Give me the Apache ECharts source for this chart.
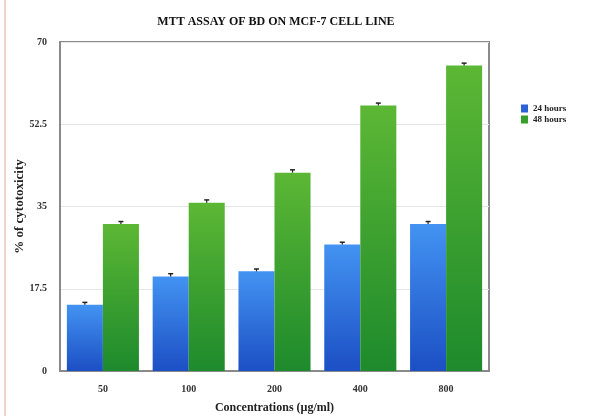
<!DOCTYPE html>
<html>
<head>
<meta charset="utf-8">
<script src="https://cdn.jsdelivr.net/npm/echarts@6/dist/echarts.min.js"></script>
<style>
  html, body { margin: 0; padding: 0; background: #ffffff; }
  #chart { width: 603px; height: 416px; }
</style>
</head>
<body>
<div id="chart"></div>
<script>
// Concentrations tested (µg/ml)
const categories = ['50', '100', '200', '400', '800'];
// % cytotoxicity after 24 h and 48 h exposure
const hours24 = [14.1, 20.1, 21.2, 26.9, 31.3];
const hours48 = [31.3, 35.8, 42.2, 56.5, 65.0];
// standard error on each bar
const err24 = [0.5, 0.6, 0.5, 0.5, 0.5];
const err48 = [0.5, 0.6, 0.6, 0.5, 0.5];
const yTicks = [0, 17.5, 35, 52.5, 70];

const serif = '"Liberation Serif", "DejaVu Serif", serif';
const CAT_GAP = 0.16;

function errorBars(values, errs, side) {
  return {
    type: 'custom',
    z: 5,
    silent: true,
    data: values.map((v, i) => [i, v, errs[i]]),
    renderItem: function (params, api) {
      const i = api.value(0);
      const v = api.value(1);
      const e = api.value(2);
      const band = api.size([1, 0])[0];
      const bw = band * (1 - CAT_GAP) / 2;
      const base = api.coord([i, v]);
      const x = base[0] + side * bw / 2;
      const yTop = api.coord([i, v + e])[1];
      const y0 = base[1];
      const cap = 2.5;
      return {
        type: 'group',
        children: [
          { type: 'line', shape: { x1: x, y1: y0, x2: x, y2: yTop }, style: { stroke: '#222', lineWidth: 1.2 } },
          { type: 'line', shape: { x1: x - cap, y1: yTop, x2: x + cap, y2: yTop }, style: { stroke: '#222', lineWidth: 1.5 } }
        ]
      };
    }
  };
}

const chart = echarts.init(document.getElementById('chart'), null, { renderer: 'canvas' });

chart.setOption({
  backgroundColor: '#ffffff',
  animation: false,
  title: {
    text: 'MTT ASSAY OF BD ON MCF-7 CELL LINE',
    left: 271,
    textAlign: 'center',
    top: 11,
    textStyle: { fontFamily: serif, fontSize: 12, fontWeight: 'bold', color: '#111' }
  },
  legend: {
    orient: 'vertical',
    left: 516,
    top: 99,
    itemWidth: 7,
    itemHeight: 8,
    itemGap: 2,
    icon: 'rect',
    textStyle: { fontFamily: serif, fontSize: 9, fontWeight: 'bold', color: '#222', padding: [0, 0, 0, 0] },
    data: [
      { name: '24 hours', itemStyle: { color: '#2b62d6' } },
      { name: '48 hours', itemStyle: { color: '#36a02b' } }
    ]
  },
  grid: {
    left: 60, right: 114, top: 42, bottom: 45,
    outerBoundsMode: 'none',
    containLabel: false,
    show: true, borderColor: '#8a8a8a', borderWidth: 2, backgroundColor: 'transparent'
  },
  xAxis: {
    type: 'category',
    data: categories,
    name: 'Concentrations (µg/ml)',
    nameLocation: 'middle',
    nameGap: 31,
    nameMoveOverlap: false,
    nameTextStyle: { fontFamily: serif, fontSize: 12, fontWeight: 'bold', color: '#222' },
    axisLine: { show: true, lineStyle: { color: '#8a8a8a', width: 2 } },
    axisTick: { show: false },
    axisLabel: { fontFamily: serif, fontSize: 10, fontWeight: 'bold', color: '#333', margin: 13 }
  },
  yAxis: {
    type: 'value',
    min: 0,
    max: 70,
    interval: 17.5,
    name: '% of cytotoxicity',
    nameLocation: 'middle',
    nameGap: 34,
    nameMoveOverlap: false,
    nameRotate: 90,
    nameTextStyle: { fontFamily: serif, fontSize: 13, fontWeight: 'bold', color: '#222' },
    axisLine: { show: true, lineStyle: { color: '#8a8a8a', width: 2 } },
    axisTick: { show: false },
    splitLine: { show: true, lineStyle: { color: '#e6e6e6', width: 1 } },
    axisLabel: {
      fontFamily: serif, fontSize: 10, fontWeight: 'bold', color: '#333', margin: 13,
      formatter: v => (yTicks.indexOf(v) >= 0 ? String(v) : '')
    }
  },
  series: [
    {
      name: '24 hours',
      type: 'bar',
      data: hours24,
      barGap: '0%',
      barCategoryGap: (CAT_GAP * 100) + '%',
      itemStyle: {
        color: new echarts.graphic.LinearGradient(0, 0, 0, 1, [
          { offset: 0, color: '#4393f2' },
          { offset: 1, color: '#1c4fc4' }
        ])
      }
    },
    {
      name: '48 hours',
      type: 'bar',
      data: hours48,
      barGap: '0%',
      barCategoryGap: (CAT_GAP * 100) + '%',
      itemStyle: {
        color: new echarts.graphic.LinearGradient(0, 0, 0, 1, [
          { offset: 0, color: '#5cb734' },
          { offset: 1, color: '#1d8a2c' }
        ])
      }
    },
    errorBars(hours24, err24, -1),
    errorBars(hours48, err48, 1)
  ],
  graphic: [
    // thin pink margin line down the left edge of the page
    { type: 'rect', left: 4, top: 0, shape: { width: 2, height: 416 }, style: { fill: '#efd2cb' }, z: -1 }
  ]
});
</script>
</body>
</html>
